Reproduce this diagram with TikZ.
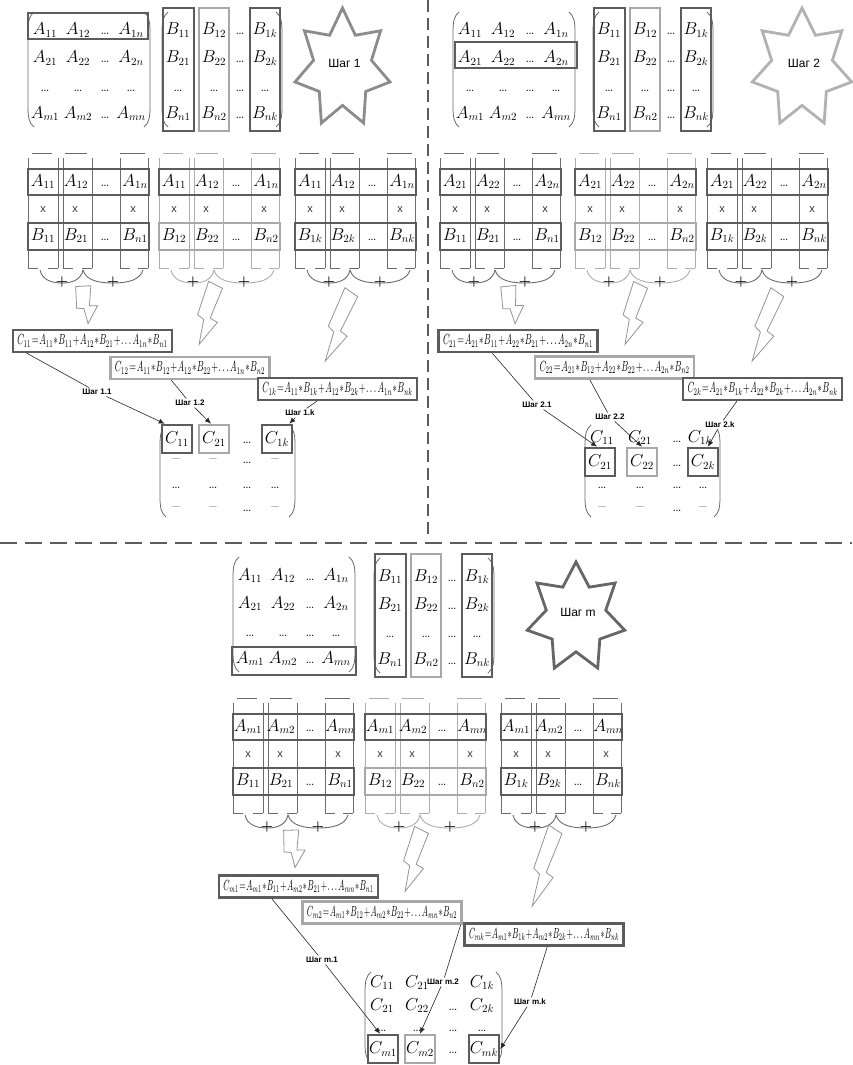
\documentclass[tikz,border=0pt]{standalone}
\usepackage{fontspec}
\usepackage{graphicx}
\newfontfamily\arialf{Liberation Sans}
\usetikzlibrary{calc,arrows.meta}
\definecolor{dk}{gray}{0.36}
\definecolor{lt}{gray}{0.66}
\definecolor{lnd}{gray}{0.42}
\definecolor{lnl}{gray}{0.68}
\definecolor{boltc}{gray}{0.58}
\definecolor{stc1}{gray}{0.55}
\definecolor{stc2}{gray}{0.70}
\definecolor{stc3}{gray}{0.40}
\tikzset{
 ent/.style={inner sep=0pt, anchor=base, font=\fontsize{16}{18}\selectfont},
 paren/.style={draw=lnd, line width=0.8pt},
 dkbox/.style={draw=dk, line width=2.6pt},
 ltbox/.style={draw=lt, line width=2.6pt},
 brk/.style={draw=#1, line width=0.9pt},
 fbox/.style={line width=2.4pt, fill=white, minimum width=159pt, minimum height=22pt, inner sep=0pt},
 cbox/.style={minimum width=30pt, minimum height=28pt, inner sep=0pt, font=\fontsize{16}{18}\selectfont, line width=2.6pt, fill=white},
 steplbl/.style={font=\arialf\bfseries\fontsize{8}{9}\selectfont, inner sep=1.5pt, fill=white},
 conn/.style={draw=black!85, line width=0.6pt},
 arr/.style={conn, -{Latex[length=6pt,width=5pt]}},
 boltst/.style={draw=boltc, line width=0.8pt, fill=white, line join=miter},
 xmark/.style={font=\arialf\fontsize{11}{12}\selectfont, inner sep=0pt, text=black!80},
 plusmark/.style={font=\fontsize{14}{14}\selectfont\bfseries, inner sep=0pt},
 startxt/.style={font=\arialf\fontsize{12}{14}\selectfont, inner sep=0pt},
 sepv/.style={draw=dk, line width=1.1pt, dash pattern=on 12pt off 6pt},
 seph/.style={draw=dk, line width=1.1pt, dash pattern=on 17pt off 8pt},
}
\newcommand\mkParens[4]{%
\draw[paren] ({#1+6},#3) .. controls ({#1+1},{#3+4}) and (#1,{#3+10}) .. (#1,{#3+20}) -- (#1,{#4-20}) .. controls (#1,{#4-10}) and ({#1+1},{#4-4}) .. ({#1+6},#4);
\draw[paren] ({#2-6},#3) .. controls ({#2-1},{#3+4}) and (#2,{#3+10}) .. (#2,{#3+20}) -- (#2,{#4-20}) .. controls (#2,{#4-10}) and ({#2-1},{#4-4}) .. ({#2-6},#4);}
\newcommand\mkA[3]{%
\begin{scope}[shift={(#1,#2)}]
\mkParens{28}{150}{12}{127}
\foreach \rr/\ri/\yy in {1/1/35,2/2/63,4/m/118}{
 \node[ent] (#3a\rr c1) at (45,\yy) {$A_{\ri1}$};
 \node[ent] (#3a\rr c2) at (78,\yy) {$A_{\ri2}$};
 \node[ent] (#3a\rr c3) at (105,\yy) {\ldots};
 \node[ent] (#3a\rr c4) at (131,\yy) {$A_{\ri n}$};}
\foreach \cc/\xx in {1/45,2/78,3/105,4/131}{\node[ent] (#3a3c\cc) at (\xx,91) {\ldots};}
\end{scope}}
\newcommand\mkB[3]{%
\begin{scope}[shift={(#1,#2)}]
\mkParens{162}{282}{12}{127}
\foreach \rr/\ri/\yy in {1/1/35,2/2/63,4/n/118}{
 \node[ent] (#3b\rr c1) at (178,\yy) {$B_{\ri1}$};
 \node[ent] (#3b\rr c2) at (214,\yy) {$B_{\ri2}$};
 \node[ent] (#3b\rr c3) at (240,\yy) {\ldots};
 \node[ent] (#3b\rr c4) at (265,\yy) {$B_{\ri k}$};}
\foreach \cc/\xx in {1/178,2/214,3/240,4/265}{\node[ent] (#3b3c\cc) at (\xx,91) {\ldots};}
\draw[dkbox] (163,8) rectangle (194,131);
\draw[ltbox] (199,8) rectangle (229,131);
\draw[dkbox] (250,8) rectangle (280,131);
\end{scope}}
\newcommand\mkStar[7]{%
\draw[draw=#5, line width=2.8pt, line join=miter] plot[samples at={0,...,13}, variable=\sk] ({#1+(mod(\sk,2)==0?1:0.61)*#3*cos(-90+\sk*180/7)},{#2+(mod(\sk,2)==0?1:0.61)*#4*sin(-90+\sk*180/7)}) -- cycle;
\node[startxt] (#6) at ({#1+2},{#2-5.5}) {#7};}
\newcommand\mkG[7]{%
\begin{scope}[shift={(#1,#2)}]
\foreach \ua/\ub in {4/24,37/59,92/117}{\draw[brk=#3] (\ua,153) -- (\ub,153);}
\foreach \xx in {0,30,35,64,92,120}{\draw[brk=#3] (\xx,158) -- (\xx,268);}
\foreach \ua/\ub in {0/10,20/30,35/45,54/64,92/102,110/120}{\draw[brk=#3] (\ua,268) -- (\ub,268);}
\draw[brk=#3] (12,270) .. controls (14,280) and (24,283) .. (34,283) .. controls (44,283) and (53,280) .. (55,270);
\draw[brk=#3] (55,270) .. controls (58,281) and (72,283) .. (85,283) .. controls (100,283) and (112,280) .. (115,270);
\draw[dkbox] (0,169) rectangle (121,195);
\draw[#4] (0,223) rectangle (121,250);
\node[ent] (#7a1) at (15,186) {$A_{#51}$};
\node[ent] (#7a2) at (48,186) {$A_{#52}$};
\node[ent] (#7a3) at (77,186) {\ldots};
\node[ent] (#7a4) at (107,186) {$A_{#5n}$};
\node[xmark] (#7x1) at (15,210) {x};
\node[xmark] (#7x2) at (47,210) {x};
\node[xmark] (#7x3) at (105,210) {x};
\node[ent] (#7b1) at (15,240) {$B_{1#6}$};
\node[ent] (#7b2) at (48,240) {$B_{2#6}$};
\node[ent] (#7b3) at (77,240) {\ldots};
\node[ent] (#7b4) at (107,240) {$B_{n#6}$};
\node[plusmark] (#7p1) at (34,282) {+};
\node[plusmark] (#7p2) at (85,282) {+};
\end{scope}}
\newcommand\bolt[5]{%
\pgfmathsetmacro\bdx{#3-#1}\pgfmathsetmacro\bdy{#4-#2}%
\pgfmathsetmacro\bL{sqrt(\bdx*\bdx+\bdy*\bdy)}%
\pgfmathsetmacro\bux{\bdx/\bL}\pgfmathsetmacro\buy{\bdy/\bL}%
\foreach \bt/\bs/\bn in {0/-7.5/1,0.06/7.5/2,0.56/2/3,0.6/10/4,1/-3/5,0.6/-4/6,0.55/-11/7}{
 \coordinate (#5-\bn) at ({#1+\bt*\bdx+(\bs)*\buy},{#2+\bt*\bdy-(\bs)*\bux});}
\draw[boltst] (#5-1) -- (#5-2) -- (#5-3) -- (#5-4) -- (#5-5) -- (#5-6) -- (#5-7) -- cycle;}
\newcommand\ftxt[1]{\resizebox{150pt}{10pt}{$\medmuskip=1mu\thickmuskip=1.5mu #1$}}
\begin{document}
\begin{tikzpicture}[x=1pt,y=-1pt]
\useasboundingbox (0,0) rectangle (852,1065);
\fill[white] (0,0) rectangle (852,1065);
\draw[sepv] (428,0) -- (428,537);
\draw[seph] (0,543) -- (852,543);
% ---------- panel 1 ----------
\mkA{0}{0}{P}
\draw[dkbox] (28,13) rectangle (148,39);
\mkB{0}{0}{P}
\mkStar{342.5}{68.5}{48.7}{60.5}{stc1}{Pstar}{Шаг 1}
\mkG{28}{0}{lnd}{dkbox}{1}{1}{Pg1}
\mkG{159}{0}{lnl}{ltbox}{1}{2}{Pg2}
\mkG{295}{0}{lnd}{dkbox}{1}{k}{Pg3}
\bolt{83}{285}{91}{323}{bA}
\bolt{216}{283}{202}{345}{bB}
\bolt{352}{290}{328}{362}{bC}
\node[fbox,draw=dk] (f11) at (92.5,341) {\ftxt{C_{11}=A_{11}*B_{11}+A_{12}*B_{21}+\ldots A_{1n}*B_{n1}}};
\node[fbox,draw=lt] (f12) at (190,368) {\ftxt{C_{12}=A_{11}*B_{12}+A_{12}*B_{22}+\ldots A_{1n}*B_{n2}}};
\node[fbox,draw=dk] (f1k) at (337.5,389) {\ftxt{C_{1k}=A_{11}*B_{1k}+A_{12}*B_{2k}+\ldots A_{1n}*B_{nk}}};
\mkParens{160}{295}{425}{517}
\node[cbox,draw=dk] (Pc11) at (177,439) {$C_{11}$};
\node[cbox,draw=lt] (Pc12) at (214,439) {$C_{21}$};
\node[ent] (Pc13) at (247,443) {\ldots};
\node[cbox,draw=dk] (Pc14) at (277,439) {$C_{1k}$};
\foreach \xx/\cc [count=\ii] in {176/\textendash,213/\textendash,247/\ldots,275/\textendash}{\node[ent] (Pc2\ii) at (\xx,463) {\cc};}
\foreach \xx [count=\ii] in {176,213,247,275}{\node[ent] (Pc3\ii) at (\xx,488) {\ldots};}
\foreach \xx/\cc [count=\ii] in {176/\textendash,213/\textendash,247/\ldots,275/\textendash}{\node[ent] (Pc4\ii) at (\xx,511) {\cc};}
\node[steplbl] (L11) at (97,392) {Шаг 1.1};
\draw[conn] ($(f11.south west)+(15,0)$) -- (L11);
\draw[arr] (L11) -- ($(Pc11.north west)+(4,0)$);
\node[steplbl] (L12) at (190,403) {Шаг 1.2};
\draw[conn] ($(f12.south west)+(62,0)$) -- (L12);
\draw[arr] (L12) -- ($(Pc12.north)+(-3,0)$);
\node[steplbl] (L1k) at (300,413) {Шаг 1.k};
\draw[conn] ($(f1k.south west)+(60,0)$) -- (L1k);
\draw[arr] (L1k) -- ($(Pc14.north east)+(-4,0)$);
% ---------- panel 2 ----------
\mkA{425}{0}{Q}
\draw[dkbox] (455,42) rectangle (577,68);
\mkB{431}{0}{Q}
\mkStar{802}{68.5}{51}{60.5}{stc2}{Qstar}{Шаг 2}
\mkG{440}{0}{lnd}{dkbox}{2}{1}{Qg1}
\mkG{575}{0}{lnl}{ltbox}{2}{2}{Qg2}
\mkG{707}{0}{lnd}{dkbox}{2}{k}{Qg3}
\bolt{508}{285}{518}{323}{bD}
\bolt{641}{283}{628}{345}{bE}
\bolt{778}{290}{755}{362}{bF}
\node[fbox,draw=dk] (f21) at (518,341) {\ftxt{C_{21}=A_{21}*B_{11}+A_{22}*B_{21}+\ldots A_{2n}*B_{n1}}};
\node[fbox,draw=lt] (f22) at (614.5,367.5) {\ftxt{C_{22}=A_{21}*B_{12}+A_{22}*B_{22}+\ldots A_{2n}*B_{n2}}};
\node[fbox,draw=dk] (f2k) at (762.5,389) {\ftxt{C_{2k}=A_{21}*B_{1k}+A_{22}*B_{2k}+\ldots A_{2n}*B_{nk}}};
\mkParens{585}{720}{425}{517}
\foreach \xx/\cc [count=\ii] in {602/$C_{11}$,640/$C_{21}$,677/\ldots,700/$C_{1k}$}{\node[ent] (Qc1\ii) at (\xx,442) {\cc};}
\node[cbox,draw=dk] (Qc21) at (600,462) {$C_{21}$};
\node[cbox,draw=lt] (Qc22) at (642,462) {$C_{22}$};
\node[ent] (Qc23) at (677,466) {\ldots};
\node[cbox,draw=dk] (Qc24) at (703,462) {$C_{2k}$};
\foreach \xx [count=\ii] in {602,640,677,703}{\node[ent] (Qc3\ii) at (\xx,488) {\ldots};}
\foreach \xx/\cc [count=\ii] in {602/\textendash,640/\textendash,677/\ldots,703/\textendash}{\node[ent] (Qc4\ii) at (\xx,511) {\cc};}
\node[steplbl] (L21) at (537,405) {Шаг 2.1};
\draw[conn] ($(f21.south west)+(55,0)$) -- (L21);
\draw[arr] (L21) -- ($(Qc21.north)+(-3,0)$);
\node[steplbl] (L22) at (610,417) {Шаг 2.2};
\draw[conn] ($(f22.south west)+(56,0)$) -- (L22);
\draw[arr] (L22) -- (Qc22.north);
\node[steplbl] (L2k) at (720,425) {Шаг 2.k};
\draw[conn] ($(f2k.south west)+(55,0)$) -- (L2k);
\draw[arr] (L2k) -- ($(Qc24.north)+(5,0)$);
% ---------- panel m ----------
\mkA{205}{545}{M}
\draw[dkbox] (232,647) rectangle (356,675);
\mkB{212}{546}{M}
\mkStar{576}{617.8}{50}{55.8}{stc3}{Mstar}{Шаг m}
\mkG{233}{545}{lnd}{dkbox}{m}{1}{Mg1}
\mkG{365}{545}{lnl}{ltbox}{m}{2}{Mg2}
\mkG{501}{545}{lnd}{dkbox}{m}{k}{Mg3}
\bolt{291}{829}{298}{867}{bG}
\bolt{422}{828}{408}{892}{bH}
\bolt{556}{827}{535}{907}{bI}
\node[fbox,draw=dk] (fm1) at (298.5,886.5) {\ftxt{C_{m1}=A_{m1}*B_{11}+A_{m2}*B_{21}+\ldots A_{mn}*B_{n1}}};
\node[fbox,draw=lt] (fm2) at (382,912.5) {\ftxt{C_{m2}=A_{m1}*B_{12}+A_{m2}*B_{22}+\ldots A_{mn}*B_{n2}}};
\node[fbox,draw=dk] (fmk) at (544,934.5) {\ftxt{C_{mk}=A_{m1}*B_{1k}+A_{m2}*B_{2k}+\ldots A_{mn}*B_{nk}}};
\mkParens{365}{502}{972}{1063}
\foreach \xx/\cc [count=\ii] in {382/$C_{11}$,417/$C_{21}$,482/$C_{1k}$}{\node[ent] (Mc1\ii) at (\xx,987) {\cc};}
\foreach \xx/\cc [count=\ii] in {382/$C_{21}$,417/$C_{22}$,453/\ldots,482/$C_{2k}$}{\node[ent] (Mc2\ii) at (\xx,1010) {\cc};}
\foreach \xx [count=\ii] in {382,417,453,482}{\node[ent] (Mc3\ii) at (\xx,1031) {\ldots};}
\node[cbox,draw=dk] (Mc41) at (383,1049) {$C_{m1}$};
\node[cbox,draw=lt] (Mc42) at (420,1049) {$C_{m2}$};
\node[ent] (Mc43) at (453,1053) {\ldots};
\node[cbox,draw=dk] (Mc44) at (484,1049) {$C_{mk}$};
\node[steplbl] (Lm1) at (322,960) {Шаг m.1};
\draw[conn] ($(fm1.south west)+(54,0)$) -- (Lm1);
\draw[arr] (Lm1) -- ($(Mc41.north)+(-3,0)$);
\node[steplbl] (Lm2) at (443,982) {Шаг m.2};
\draw[conn] ($(fm2.south east)+(-2,0)$) -- (Lm2);
\draw[arr] (Lm2) -- (Mc42.north);
\node[steplbl] (Lmk) at (530,1002) {Шаг m.k};
\draw[conn] ($(fmk.south west)+(84,0)$) -- (Lmk);
\draw[arr] (Lmk) -- (Mc44.east);
\end{tikzpicture}
\end{document}
